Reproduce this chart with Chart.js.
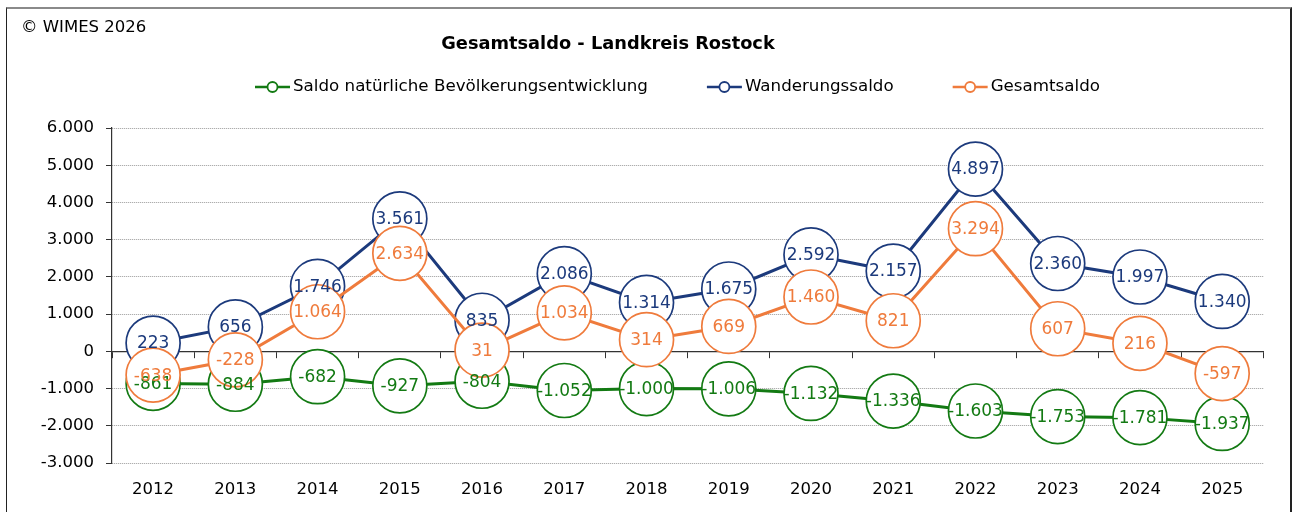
<!DOCTYPE html>
<html>
<head>
<meta charset="utf-8">
<script src="https://cdn.jsdelivr.net/npm/chart.js@4"></script>
<style>
  html, body { margin: 0; padding: 0; background: #fff; overflow: hidden; }
  #wrap { position: relative; width: 1292px; height: 512px; }
  #chart { position: absolute; left: 0; top: 0; }
  #frame {
    position: absolute; left: 6px; top: 7px; width: 1283px; height: 600px;
    border-left: 1px solid #222; border-top: 2px solid #8a8a8a; border-right: 2px solid #222;
    pointer-events: none;
  }
</style>
</head>
<body>
<div id="wrap">
  <canvas id="chart" width="1292" height="512"></canvas>
  <div id="frame"></div>
</div>
<script>
// years on the x axis
const years = ['2012', '2013', '2014', '2015', '2016', '2017', '2018',
               '2019', '2020', '2021', '2022', '2023', '2024', '2025'];

// natural population balance (births minus deaths)
const natural = [-861, -884, -682, -927, -804, -1052, -1000,
                 -1006, -1132, -1336, -1603, -1753, -1781, -1937];
// migration balance
const migration = [223, 656, 1746, 3561, 835, 2086, 1314,
                   1675, 2592, 2157, 4897, 2360, 1997, 1340];
// total balance
const total = [-638, -228, 1064, 2634, 31, 1034, 314,
               669, 1460, 821, 3294, 607, 216, -597];

const seriesNames = ['Saldo natürliche Bevölkerungsentwicklung', 'Wanderungssaldo', 'Gesamtsaldo'];
const titleText = 'Gesamtsaldo - Landkreis Rostock';
const creditText = '© WIMES 2026';

// y axis range
const yMin = -3000;
const yMax = 6000;
const yStep = 1000;

const GREEN = '#137a13';
const NAVY = '#1c3a7c';
const ORANGE = '#ef7b3c';
const FONT = '"DejaVu Sans", Tahoma, Verdana, sans-serif';

// german thousands separator
function fmt(v) {
  const s = Math.abs(v).toString().replace(/\B(?=(\d{3})+(?!\d))/g, '.');
  return (v < 0 ? '-' : '') + s;
}

function series(label, values, color, order) {
  return {
    label: label,
    data: values,
    borderColor: color,
    backgroundColor: color,
    borderWidth: 3,
    pointRadius: 27,
    pointHoverRadius: 27,
    pointBackgroundColor: '#fff',
    pointBorderColor: color,
    pointBorderWidth: 1.7,
    tension: 0,
    order: order,
    clip: false
  };
}

// value labels inside the circles, drawn after every dataset
const valueLabels = {
  id: 'valueLabels',
  afterDatasetsDraw(chart) {
    const ctx = chart.ctx;
    ctx.save();
    ctx.font = '17px ' + FONT;
    ctx.textAlign = 'center';
    ctx.textBaseline = 'middle';
    chart.data.datasets.forEach((ds, i) => {
      const meta = chart.getDatasetMeta(i);
      meta.data.forEach((pt, j) => {
        ctx.fillStyle = ds.borderColor;
        ctx.fillText(fmt(ds.data[j]), pt.x, pt.y + 1);
      });
    });
    ctx.restore();
  }
};

// title, credit and legend (line - circle - line markers)
const header = {
  id: 'header',
  afterDraw(chart) {
    const ctx = chart.ctx;
    ctx.save();
    ctx.textBaseline = 'middle';
    ctx.fillStyle = '#000';
    ctx.font = '16.5px ' + FONT;
    ctx.textAlign = 'left';
    ctx.fillText(creditText, 21, 28);
    ctx.font = 'bold 17.8px ' + FONT;
    ctx.textAlign = 'center';
    ctx.fillText(titleText, 608, 44);

    ctx.font = '16.7px ' + FONT;
    ctx.textAlign = 'left';
    let x = 255;
    const y = 87;
    chart.data.datasets.forEach((ds) => {
      ctx.strokeStyle = ds.borderColor;
      ctx.lineWidth = 2.5;
      ctx.beginPath();
      ctx.moveTo(x, y);
      ctx.lineTo(x + 35, y);
      ctx.stroke();
      ctx.beginPath();
      ctx.arc(x + 17.5, y, 5, 0, Math.PI * 2);
      ctx.fillStyle = '#fff';
      ctx.fill();
      ctx.lineWidth = 1.8;
      ctx.stroke();
      ctx.fillStyle = '#000';
      ctx.fillText(ds.label, x + 38, y);
      x += 38 + ctx.measureText(ds.label).width + 59;
    });
    ctx.restore();
  }
};

new Chart(document.getElementById('chart'), {
  type: 'line',
  data: {
    labels: years,
    datasets: [
      series(seriesNames[0], natural, GREEN, 3),
      series(seriesNames[1], migration, NAVY, 2),
      series(seriesNames[2], total, ORANGE, 1)
    ]
  },
  options: {
    responsive: false,
    animation: false,
    events: [],
    layout: { padding: { left: 0, right: 26, top: 128, bottom: 0 } },
    plugins: {
      legend: { display: false },
      title: { display: false },
      tooltip: { enabled: false }
    },
    scales: {
      x: {
        offset: true,
        grid: { display: false, drawTicks: false },
        border: { display: false },
        ticks: {
          color: '#000',
          padding: 17,
          font: { family: FONT, size: 16.5 },
          maxRotation: 0
        },
        afterFit(scale) { scale.height = 49; }
      },
      // zero line with tick marks between the years
      x0: {
        type: 'category',
        axis: 'x',
        labels: years,
        offset: true,
        position: { y: 0 },
        grid: { drawOnChartArea: false, drawTicks: true, tickLength: 6, color: '#333', offset: true },
        border: { display: true, color: '#333', width: 1.2 },
        ticks: { display: false }
      },
      y: {
        min: yMin,
        max: yMax,
        ticks: {
          stepSize: yStep,
          color: '#000',
          padding: 12,
          font: { family: FONT, size: 16.5 },
          callback: (v) => fmt(v)
        },
        grid: { color: '#9a9a9a', tickColor: '#333', tickLength: 6, lineWidth: 1 },
        border: { display: true, color: '#333', width: 1.2, dash: [1, 1] },
        afterFit(scale) { scale.width = 112; }
      }
    }
  },
  plugins: [valueLabels, header]
});
</script>
</body>
</html>
